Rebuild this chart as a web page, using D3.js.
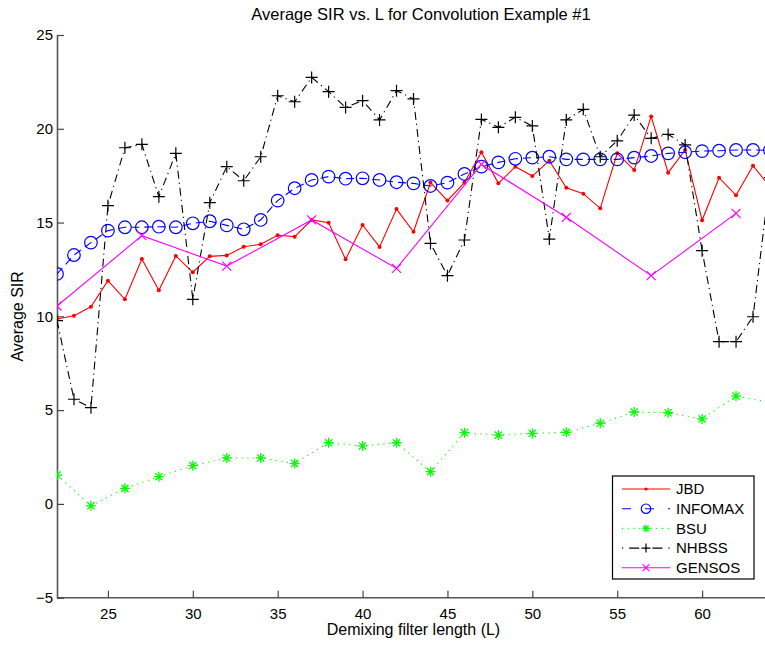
<!DOCTYPE html>
<html>
<head>
<meta charset="utf-8">
<script src="https://cdn.jsdelivr.net/npm/d3@7"></script>
<style>
  body { margin: 0; background: #fff; }
  svg { display: block; font-family: "Liberation Sans", Arial, Helvetica, sans-serif; }
</style>
</head>
<body>
<div id="chart"></div>
<script>
// filter lengths L
const lAll = [22,23,24,25,26,27,28,29,30,31,32,33,34,35,36,37,38,39,40,41,42,43,
              44,45,46,47,48,49,50,51,52,53,54,55,56,57,58,59,60,61,62,63,64];
const lBsu = [22,24,26,28,30,32,34,36,38,40,42,44,46,48,50,52,54,56,58,60,62,64];
const lGensos = [22,27,32,37,42,47,52,57,62];

const jbd = [9.86,10.03,10.51,11.9,10.91,13.06,11.39,13.22,12.35,13.2,13.25,13.71,13.84,14.32,14.25,
             15.14,14.99,13.04,14.87,13.7,15.72,14.51,17.13,16.17,17.13,18.75,17.09,17.98,17.48,
             18.3,16.86,16.54,15.76,18.69,17.8,20.66,17.66,18.87,15.12,17.39,16.45,18.03,16.9];
const infomax = [12.26,13.27,13.93,14.57,14.75,14.75,14.78,14.75,14.96,15.07,14.85,14.64,15.14,16.17,16.83,
                 17.27,17.45,17.34,17.36,17.27,17.15,17.09,16.95,17.13,17.59,17.98,18.21,18.4,18.46,
                 18.51,18.37,18.37,18.37,18.37,18.46,18.55,18.69,18.75,18.81,18.83,18.87,18.87,18.85];
const bsu = [1.54,-0.1,0.83,1.45,2.04,2.45,2.45,2.16,3.26,3.09,3.26,1.72,3.8,3.67,3.76,3.82,4.3,4.9,4.86,4.53,5.75,5.4];
const nhbss = [9.77,5.58,5.13,15.9,18.99,19.17,16.38,18.69,10.91,16.06,17.98,17.23,18.51,21.76,21.44,
               22.74,21.98,21.14,21.5,20.47,22.03,21.59,13.89,12.17,14.07,20.5,20.08,20.61,20.15,
               14.12,20.47,21.04,18.51,19.36,20.73,19.49,19.7,19.14,13.5,8.65,8.65,9.98,17.4];
const gensos = [10.55,14.3,12.68,15.14,12.56,18.1,15.28,12.17,15.49];

const xTicks = [25,30,35,40,45,50,55,60];
const yTicks = [-5,0,5,10,15,20,25];

const w = 765, h = 645;
const padLeft = 57, padRight = 770, padTop = 35, padBottom = 597.7;

const svg = d3.select("#chart").append("svg")
  .attr("width", w)
  .attr("height", h);

const xScale = d3.scaleLinear().domain([22, 64]).range([padLeft, padRight]);
const yScale = d3.scaleLinear().domain([-5, 25]).range([padBottom, padTop]);

// axes, ticks pointing inward like matlab
const xAxis = d3.axisBottom(xScale).tickValues(xTicks).tickSizeInner(-7).tickSizeOuter(0).tickPadding(11);
const yAxis = d3.axisLeft(yScale).tickValues(yTicks).tickSizeInner(-7).tickSizeOuter(0).tickPadding(4);

const gx = svg.append("g")
  .attr("transform", "translate(0," + padBottom + ")")
  .call(xAxis);
const gy = svg.append("g")
  .attr("transform", "translate(" + padLeft + ",0)")
  .call(yAxis);

// extend bottom axis line to the right edge
gx.select(".domain").attr("d", "M" + padLeft + ",0H" + padRight);

[gx, gy].forEach(g => {
  g.select(".domain").attr("stroke", "#555").attr("stroke-width", 1.6);
  g.selectAll(".tick line").attr("stroke", "#444").attr("stroke-width", 1.2);
  g.selectAll(".tick text").attr("font-size", 15).attr("fill", "#000")
    .attr("font-family", "Liberation Sans, Arial, sans-serif");
});

svg.append("text")
  .attr("x", 421).attr("y", 20)
  .attr("text-anchor", "middle")
  .attr("font-size", 16.5)
  .text("Average SIR vs. L for Convolution Example #1");

svg.append("text")
  .attr("x", (padLeft + padRight) / 2).attr("y", 635)
  .attr("text-anchor", "middle")
  .attr("font-size", 16)
  .text("Demixing filter length (L)");

svg.append("text")
  .attr("transform", "translate(23," + ((padTop + padBottom) / 2) + ") rotate(-90)")
  .attr("text-anchor", "middle")
  .attr("font-size", 16)
  .text("Average SIR");

// marker drawing helpers
function drawMarker(g, type, color, k) {
  k = k || 1;
  if (type === "dot") {
    g.append("circle").attr("r", 2 * k).attr("fill", color);
  } else if (type === "circle") {
    g.append("circle").attr("r", 6.3 * k).attr("fill", "none").attr("stroke", color).attr("stroke-width", 1.2);
  } else if (type === "plus") {
    g.append("path").attr("d", d3.path ? `M${-6*k},0H${6*k}M0,${-6*k}V${6*k}` : "").attr("stroke", color).attr("stroke-width", 1.2);
  } else if (type === "star") {
    g.append("path").attr("d", `M${-5*k},0H${5*k}M0,${-5*k}V${5*k}M${-3.6*k},${-3.6*k}L${3.6*k},${3.6*k}M${-3.6*k},${3.6*k}L${3.6*k},${-3.6*k}`)
      .attr("stroke", color).attr("stroke-width", 1.3);
  } else if (type === "x") {
    g.append("path").attr("d", `M${-4.5*k},${-4.5*k}L${4.5*k},${4.5*k}M${-4.5*k},${4.5*k}L${4.5*k},${-4.5*k}`)
      .attr("stroke", color).attr("stroke-width", 1.2);
  }
}

const series = [
  {name: "JBD", xs: lAll, ys: jbd, color: "#ff0000", dash: null, marker: "dot"},
  {name: "INFOMAX", xs: lAll, ys: infomax, color: "#0000ff", dash: "8,5", marker: "circle"},
  {name: "BSU", xs: lBsu, ys: bsu, color: "#00ff00", dash: "1.2,4.5", marker: "star"},
  {name: "NHBSS", xs: lAll, ys: nhbss, color: "#000000", dash: "8,4,1.2,4", marker: "plus"},
  {name: "GENSOS", xs: lGensos, ys: gensos, color: "#ff00ff", dash: null, marker: "x"}
];

svg.append("clipPath").attr("id", "plotclip")
  .append("rect").attr("x", padLeft).attr("y", padTop - 10).attr("width", padRight - padLeft + 10).attr("height", padBottom - padTop + 20);

const plot = svg.append("g").attr("clip-path", "url(#plotclip)");

const line = d3.line().x(d => xScale(d[0])).y(d => yScale(d[1]));

series.forEach(s => {
  const pts = s.xs.map((x, i) => [x, s.ys[i]]);
  const g = plot.append("g");
  g.append("path")
    .datum(pts)
    .attr("d", line)
    .attr("fill", "none")
    .attr("stroke", s.color)
    .attr("stroke-width", 1.1)
    .attr("stroke-dasharray", s.dash);
  g.selectAll(".mk")
    .data(pts)
    .enter()
    .append("g")
    .attr("class", "mk")
    .attr("transform", d => "translate(" + xScale(d[0]) + "," + yScale(d[1]) + ")")
    .each(function() { drawMarker(d3.select(this), s.marker, s.color); });
});

// legend
const legend = svg.append("g");
legend.append("rect")
  .attr("x", 612.5).attr("y", 476)
  .attr("width", 141.5).attr("height", 103)
  .attr("fill", "#fff").attr("stroke", "#000").attr("stroke-width", 1.2);

series.forEach((s, i) => {
  const yy = 489 + i * 19.7;
  legend.append("line")
    .attr("x1", 622).attr("x2", 670).attr("y1", yy).attr("y2", yy)
    .attr("stroke", s.color).attr("stroke-width", 1.1)
    .attr("stroke-dasharray", s.name === "INFOMAX" ? "9,14" : (s.name === "NHBSS" ? "1.2,6,10,6" : s.dash));
  const m = legend.append("g").attr("transform", "translate(646," + yy + ")");
  drawMarker(m, s.marker, s.color, s.marker === "dot" ? 0.8 : 0.75);
  legend.append("text")
    .attr("x", 676).attr("y", yy)
    .attr("dy", "0.35em")
    .attr("font-size", 15)
    .text(s.name);
});
</script>
</body>
</html>
